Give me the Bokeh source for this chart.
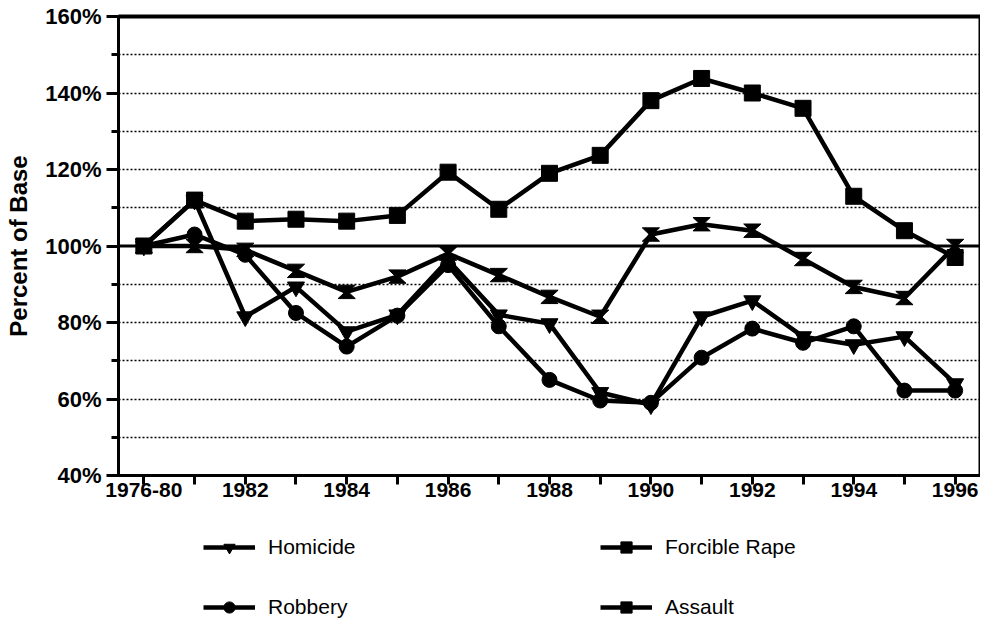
from bokeh.plotting import figure
from bokeh.layouts import column
from bokeh.models import (FixedTicker, SingleIntervalTicker, PrintfTickFormatter, Span,
                          Legend, LegendItem, LinearAxis, Range1d)
from bokeh.embed import file_html
from bokeh.resources import INLINE

categories = ["1976-80", "1981", "1982", "1983", "1984", "1985", "1986", "1987", "1988",
              "1989", "1990", "1991", "1992", "1993", "1994", "1995", "1996"]
homicide = [100, 112, 81.5, 89.3, 77.6, 82, 96.3, 82, 79.7, 61.7, 58.5, 81.5, 85.7, 76.3, 74.2, 76.3, 64]
forcible_rape = [100, 100, 99, 93.5, 88, 92, 98, 92.4, 86.7, 81.5, 103, 105.7, 104, 96.6, 89.3, 86.4, 100]
robbery = [100, 103, 97.7, 82.5, 73.7, 81.8, 95, 79, 65, 59.6, 59, 70.8, 78.4, 74.7, 79, 62.2, 62.2]
assault = [100, 112, 106.5, 107, 106.5, 108, 119.3, 109.6, 119, 123.7, 138, 143.8, 140, 136, 113, 104, 97]

FONT = "Liberation Sans"
x = list(range(len(categories)))

fig = figure(width=980, height=510, output_backend="svg", toolbar_location=None,
             x_range=Range1d(-0.5, len(categories) - 0.5), y_range=Range1d(40, 160),
             min_border_left=118, min_border_right=0, min_border_top=16, min_border_bottom=35)
fig.background_fill_color = "white"
fig.border_fill_color = "white"
fig.outline_line_color = "black"
fig.outline_line_width = 2

# y axis
yax = fig.yaxis[0]
yax.ticker = SingleIntervalTicker(interval=20, num_minor_ticks=2)
yax.formatter = PrintfTickFormatter(format="%d%%")
yax.axis_label = "Percent of Base"
yax.axis_label_text_font = FONT
yax.axis_label_text_font_style = "bold"
yax.axis_label_text_font_size = "24px"
yax.axis_label_text_color = "black"
yax.axis_label_standoff = 10
yax.major_label_text_font = FONT
yax.major_label_text_font_style = "bold"
yax.major_label_text_font_size = "22px"
yax.major_label_text_color = "black"
yax.major_tick_out = 12
yax.major_tick_in = 0
yax.minor_tick_out = 7
yax.minor_tick_in = 0
yax.major_tick_line_width = 3
yax.minor_tick_line_width = 3
yax.axis_line_width = 3

# x axis
xax = fig.xaxis[0]
xax.ticker = FixedTicker(ticks=x)
xax.major_label_overrides = {i: (c if i % 2 == 0 else "") for i, c in enumerate(categories)}
xax.major_label_text_font = FONT
xax.major_label_text_font_style = "bold"
xax.major_label_text_font_size = "21px"
xax.major_label_text_color = "black"
xax.major_tick_out = 9
xax.major_tick_in = 0
xax.minor_tick_line_color = None
xax.major_tick_line_width = 3
xax.axis_line_width = 3
xax.major_label_standoff = -2

top = LinearAxis(ticker=FixedTicker(ticks=[]), axis_line_width=4,
                 major_tick_line_color=None, minor_tick_line_color=None,
                 major_label_text_font_size="0px")
fig.add_layout(top, "above")

# grid
fig.xgrid.visible = False
fig.ygrid.ticker = FixedTicker(ticks=[50, 60, 70, 80, 90, 110, 120, 130, 140, 150])
fig.ygrid.grid_line_color = "black"
fig.ygrid.grid_line_dash = "2 2"
fig.ygrid.grid_line_width = 1.3
fig.add_layout(Span(location=100, dimension="width", line_color="black", line_width=3))

LW = 4.5
fig.line(x, homicide, line_width=LW, color="black")
fig.scatter(x, homicide, marker="inverted_triangle", size=17, color="black")
fig.line(x, robbery, line_width=LW, color="black")
fig.scatter(x, robbery, marker="circle", size=15, color="black")
fig.line(x, forcible_rape, line_width=LW, color="black")
hw, hh, w0 = 0.17, 1.75, 0.03
xs = [[xi - hw, xi + hw, xi + w0, xi + hw, xi - hw, xi - w0] for xi in x]
ys = [[yi + hh, yi + hh, yi, yi - hh, yi - hh, yi] for yi in forcible_rape]
fig.patches(xs, ys, fill_color="black", line_color="black", line_width=1)
fig.line(x, assault, line_width=LW, color="black")
fig.scatter(x, assault, marker="square", size=16, color="black")

# legend strip (its own figure; the series are out of its view, only the legend shows)
lf = figure(width=980, height=111, output_backend="svg", toolbar_location=None,
            x_range=Range1d(-1000, -999), y_range=Range1d(-1000, -999),
            x_axis_type=None, y_axis_type=None, min_border=0)
lf.outline_line_color = None
lf.grid.visible = False
lh_l = lf.line(x, homicide, line_width=LW, color="black")
lh_m = lf.scatter(x, homicide, marker="inverted_triangle", size=17, color="black")
lr_l = lf.line(x, robbery, line_width=LW, color="black")
lr_m = lf.scatter(x, robbery, marker="circle", size=15, color="black")
lfr_l = lf.line(x, forcible_rape, line_width=LW, color="black")
lfr_m = lf.scatter(x, forcible_rape, marker="square", size=15, color="black")
la_l = lf.line(x, assault, line_width=LW, color="black")
la_m = lf.scatter(x, assault, marker="square", size=15, color="black")


def make_legend(items, loc):
    leg = Legend(items=items, location=loc)
    leg.padding = 0
    leg.margin = 0
    leg.spacing = 32
    leg.glyph_width = 52
    leg.glyph_height = 28
    leg.label_height = 28
    leg.label_standoff = 13
    leg.label_text_font = FONT
    leg.label_text_font_size = "21px"
    leg.label_text_color = "black"
    leg.border_line_color = None
    leg.background_fill_alpha = 0
    return leg


# the legend strip's frame is aligned with the chart's frame (which starts at x=118)
lf.add_layout(make_legend([LegendItem(label="Homicide", renderers=[lh_l, lh_m]),
                           LegendItem(label="Robbery", renderers=[lr_l, lr_m])], (85, 0)))
lf.add_layout(make_legend([LegendItem(label="Forcible Rape", renderers=[lfr_l, lfr_m]),
                           LegendItem(label="Assault", renderers=[la_l, la_m])], (482, 0)))

p = column(fig, lf, spacing=0)
open("out.html", "w").write(file_html(p, INLINE))
